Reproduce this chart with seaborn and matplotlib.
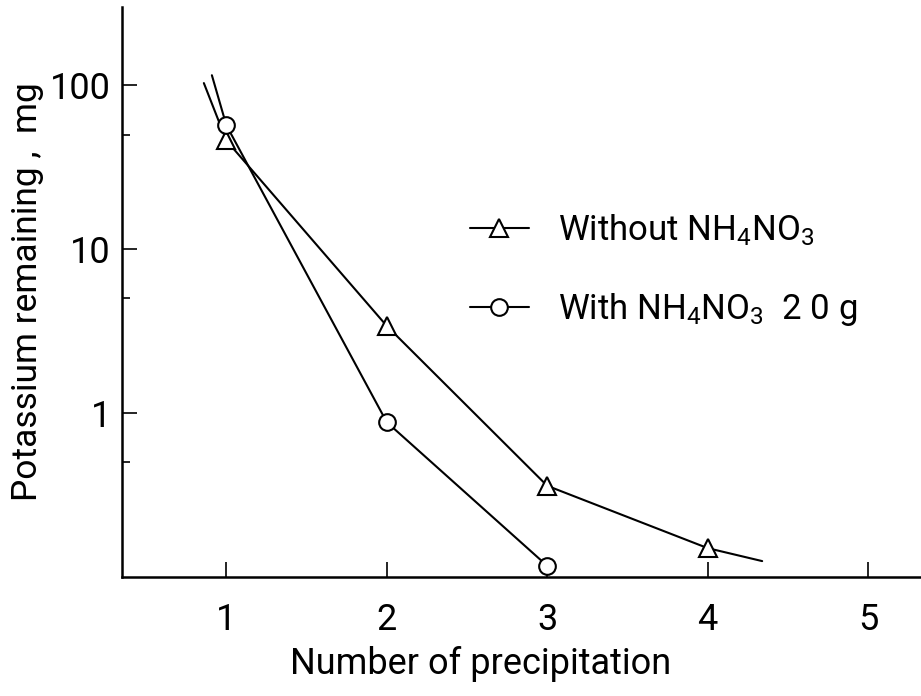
import matplotlib
matplotlib.use("Agg")
import matplotlib.pyplot as plt
import matplotlib.ticker as mticker
from matplotlib import font_manager
import seaborn as sns

# -----------------------------
# Data
# -----------------------------
# Without NH4NO3 (triangles); first and last points are the line ends without markers
tri_x = [0.86, 1, 2, 3, 4, 4.34]
tri_y = [103, 46, 3.4, 0.36, 0.15, 0.125]

# With NH4NO3 20 g (circles); first point is the line end without marker
circ_x = [0.91, 1, 2, 3]
circ_y = [115, 57, 0.88, 0.117]

x_ticks = [1, 2, 3, 4, 5]
y_major = [1, 10, 100]
y_minor = [0.5, 5, 50]

label_tri = "Without NH$_4$NO$_3$"
label_circ = "With NH$_4$NO$_3$  2 0 g"

# -----------------------------
# Style
# -----------------------------
sns.set_style("ticks")

installed = {f.name for f in font_manager.fontManager.ttflist}
font = "Roboto" if "Roboto" in installed else "DejaVu Sans"

plt.rcParams["font.family"] = [font, "DejaVu Sans"]
plt.rcParams["mathtext.fontset"] = "custom"
plt.rcParams["mathtext.rm"] = font
plt.rcParams["mathtext.it"] = font
plt.rcParams["mathtext.default"] = "regular"
plt.rcParams["text.color"] = "black"
plt.rcParams["axes.labelcolor"] = "black"
plt.rcParams["xtick.color"] = "black"
plt.rcParams["ytick.color"] = "black"
plt.rcParams["axes.edgecolor"] = "black"

fs = 26

fig = plt.figure(figsize=(9.21, 6.96), dpi=100)
ax = fig.add_axes([0.1325, 0.171, 0.8675, 0.819])

line_kw = dict(color="black", linewidth=1.5, markerfacecolor="white",
               markeredgecolor="black", markeredgewidth=1.5, clip_on=False)

sns.lineplot(x=tri_x, y=tri_y, ax=ax, marker="^", markersize=13,
             markevery=[1, 2, 3, 4], label=label_tri, sort=False, **line_kw)
sns.lineplot(x=circ_x, y=circ_y, ax=ax, marker="o", markersize=12,
             markevery=[1, 2, 3], label=label_circ, sort=False, **line_kw)

ax.set_yscale("log")
ax.set_xlim(0.35, 5.33)
ax.set_ylim(0.1, 300)

ax.set_xticks(x_ticks)
ax.set_xticklabels([str(t) for t in x_ticks], fontsize=fs)
ax.yaxis.set_major_locator(mticker.FixedLocator(y_major))
ax.yaxis.set_major_formatter(mticker.FixedFormatter([str(v) for v in y_major]))
ax.yaxis.set_minor_locator(mticker.FixedLocator(y_minor))
ax.yaxis.set_minor_formatter(mticker.NullFormatter())
for lab in ax.get_yticklabels():
    lab.set_fontsize(fs)

ax.tick_params(axis="x", which="major", direction="in", length=11, width=1.2, pad=18)
ax.tick_params(axis="y", which="major", direction="in", length=11, width=1.2, pad=8)
ax.tick_params(axis="y", which="minor", direction="in", length=6, width=1.2)

sns.despine(ax=ax)
for s in ["left", "bottom"]:
    ax.spines[s].set_linewidth(1.8)

ax.set_xlabel("Number of precipitation", fontsize=fs, labelpad=6)
ax.xaxis.label.set_x(0.449)
ax.set_ylabel("Potassium remaining ,  mg", fontsize=25.5, labelpad=4)

ax.legend(loc="upper left", bbox_to_anchor=(0.435, 0.64), frameon=False,
          fontsize=25, handlelength=1.7, handletextpad=0.85, labelspacing=1.25,
          borderpad=0, borderaxespad=0)

fig.savefig("out.png", dpi=100)
